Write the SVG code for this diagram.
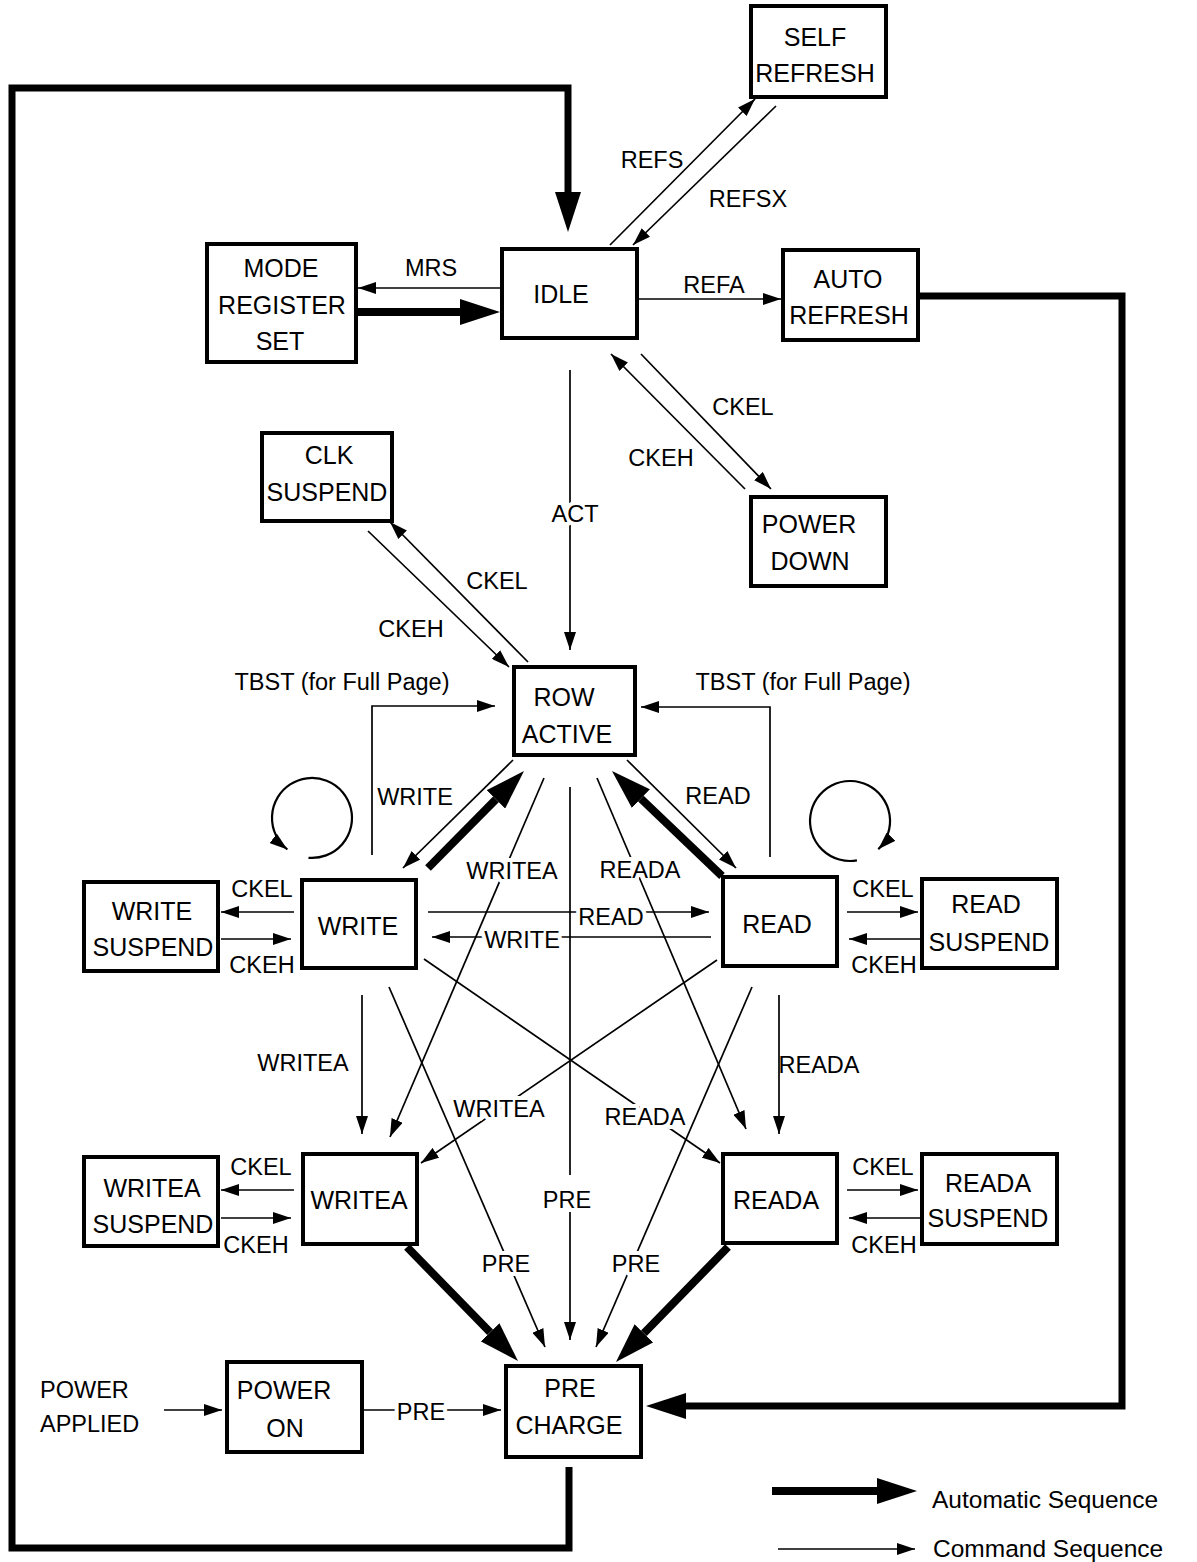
<svg xmlns="http://www.w3.org/2000/svg" width="1197" height="1562" viewBox="0 0 1197 1562">
<style>
text{font-family:"Liberation Sans",Arial,sans-serif;fill:#000}
.n{font-size:25px;text-anchor:middle}
.l{font-size:23.5px;text-anchor:middle}
.lh{font-size:23.5px;text-anchor:middle;stroke:#fff;stroke-width:8px;paint-order:stroke;stroke-linejoin:round}
.lg{font-size:24.5px}
rect{fill:#fff;stroke:#000;stroke-width:4}
.t{fill:none;stroke:#000;stroke-width:1.7;marker-end:url(#a)}
.tn{fill:none;stroke:#000;stroke-width:1.7}
.k{fill:none;stroke:#000;stroke-width:8;marker-end:url(#A)}
.ko{fill:none;stroke:#000;stroke-width:7;stroke-linejoin:miter;marker-end:url(#A)}
.lp{fill:none;stroke:#000;stroke-width:2.2;marker-end:url(#a)}
</style>
<defs>
<marker id="a" viewBox="0 0 18 12" refX="18" refY="6" markerWidth="18" markerHeight="12" markerUnits="userSpaceOnUse" orient="auto"><path d="M0,0 L18,6 L0,12 z" fill="#000"/></marker>
<marker id="A" viewBox="0 0 40 26" refX="0" refY="13" markerWidth="40" markerHeight="26" markerUnits="userSpaceOnUse" orient="auto"><path d="M0,0 L40,13 L0,26 z" fill="#000"/></marker>
</defs>

<g id="connectors">
<path class="ko" d="M569,1467 V1548 H12 V88 H568 V192"/>
<path class="ko" d="M919,296 H1122 V1406 H686"/>
<path class="k" d="M357,312 H460"/>
<path class="k" d="M428,868 L495.9,799.4"/>
<path class="k" d="M722,876 L640.9,798.6"/>
<path class="k" d="M407,1247 L490.1,1332.3"/>
<path class="k" d="M728,1247 L643.9,1333.3"/>

<path class="t" d="M502,288 H358"/>
<path class="t" d="M638,299 H781"/>
<path class="t" d="M610,245 L755,99"/>
<path class="t" d="M776,106 L633,245"/>
<path class="t" d="M641,354 L771,489"/>
<path class="t" d="M745,489 L611,354"/>
<path class="t" d="M570,370 V650"/>
<path class="t" d="M528,662 L390,522"/>
<path class="t" d="M368,531 L509,667"/>
<path class="t" d="M372,855 V706 H495"/>
<path class="t" d="M770,857 V707 H641"/>
<path class="t" d="M513,760 L403,868"/>
<path class="t" d="M627,760 L736,868"/>
<path class="t" d="M544,778 L390,1137"/>
<path class="t" d="M597,778 L746,1129"/>
<path class="tn" d="M570,787 V1175"/>
<path class="t" d="M570,1212 V1340"/>
<path class="t" d="M428,912 H709"/>
<path class="t" d="M711,937 H432"/>
<path class="t" d="M294,912 H221"/>
<path class="t" d="M221,939 H291"/>
<path class="t" d="M847,912 H918"/>
<path class="t" d="M922,939 H849"/>
<path class="t" d="M362,995 V1134"/>
<path class="t" d="M779,995 V1134"/>
<path class="t" d="M424,959 L720,1163"/>
<path class="t" d="M717,960 L421,1163"/>
<path class="t" d="M389,987 L545,1347"/>
<path class="t" d="M752,987 L596,1347"/>
<path class="t" d="M294,1190 H221"/>
<path class="t" d="M221,1218 H291"/>
<path class="t" d="M847,1190 H918"/>
<path class="t" d="M922,1218 H849"/>
<path class="t" d="M164,1410 H222"/>
<path class="t" d="M362,1410 H501"/>
<path class="lp" d="M308.5,857.8 A40,40 0 1 0 287.4,849.5"/>
<path class="lp" d="M856.9,860.4 A40,40 0 1 1 878.3,849.3"/>
</g>

<g id="labels">
<text class="l" x="652" y="168">REFS</text>
<text class="l" x="748" y="207">REFSX</text>
<text class="l" x="431" y="276">MRS</text>
<text class="l" x="714" y="293">REFA</text>
<text class="l" x="743" y="415">CKEL</text>
<text class="l" x="661" y="466">CKEH</text>
<text class="lh" x="575" y="522">ACT</text>
<text class="l" x="497" y="589">CKEL</text>
<text class="l" x="411" y="637">CKEH</text>
<text class="l" x="342" y="690">TBST (for Full Page)</text>
<text class="l" x="803" y="690">TBST (for Full Page)</text>
<text class="l" x="415" y="805">WRITE</text>
<text class="l" x="718" y="804">READ</text>
<text class="lh" x="512" y="879">WRITEA</text>
<text class="lh" x="640" y="878">READA</text>
<text class="lh" x="611" y="925">READ</text>
<text class="lh" x="522" y="948">WRITE</text>
<text class="l" x="262" y="897">CKEL</text>
<text class="l" x="262" y="973">CKEH</text>
<text class="l" x="883" y="897">CKEL</text>
<text class="l" x="884" y="973">CKEH</text>
<text class="l" x="303" y="1071">WRITEA</text>
<text class="l" x="819" y="1073">READA</text>
<text class="lh" x="499" y="1117">WRITEA</text>
<text class="lh" x="645" y="1125">READA</text>
<text class="l" x="261" y="1175">CKEL</text>
<text class="l" x="256" y="1253">CKEH</text>
<text class="l" x="883" y="1175">CKEL</text>
<text class="l" x="884" y="1253">CKEH</text>
<text class="l" x="567" y="1208">PRE</text>
<text class="lh" x="506" y="1272">PRE</text>
<text class="lh" x="636" y="1272">PRE</text>
<text class="lh" x="421" y="1420">PRE</text>
<text class="l" x="40" y="1398" style="text-anchor:start">POWER</text>
<text class="l" x="40" y="1432" style="text-anchor:start">APPLIED</text>
</g>

<g id="self-refresh"><rect x="751" y="6" width="135" height="91"/><text class="n" x="815" y="46">SELF</text><text class="n" x="815" y="82">REFRESH</text></g>
<g id="idle"><rect x="502" y="249" width="135" height="89"/><text class="n" x="561" y="303">IDLE</text></g>
<g id="mode-register-set"><rect x="207" y="244" width="149" height="118"/><text class="n" x="281" y="277">MODE</text><text class="n" x="282" y="314">REGISTER</text><text class="n" x="280" y="350">SET</text></g>
<g id="auto-refresh"><rect x="783" y="250" width="135" height="90"/><text class="n" x="848" y="288">AUTO</text><text class="n" x="849" y="324">REFRESH</text></g>
<g id="clk-suspend"><rect x="262" y="433" width="130" height="88"/><text class="n" x="329" y="464">CLK</text><text class="n" x="327" y="501">SUSPEND</text></g>
<g id="power-down"><rect x="751" y="497" width="135" height="89"/><text class="n" x="809" y="533">POWER</text><text class="n" x="810" y="570">DOWN</text></g>
<g id="row-active"><rect x="514" y="667" width="121" height="88"/><text class="n" x="564" y="706">ROW</text><text class="n" x="567" y="743">ACTIVE</text></g>
<g id="write"><rect x="302" y="880" width="114" height="88"/><text class="n" x="358" y="935">WRITE</text></g>
<g id="read"><rect x="723" y="877" width="114" height="89"/><text class="n" x="777" y="933">READ</text></g>
<g id="write-suspend"><rect x="84" y="882" width="134" height="89"/><text class="n" x="152" y="920">WRITE</text><text class="n" x="153" y="956">SUSPEND</text></g>
<g id="read-suspend"><rect x="922" y="879" width="135" height="89"/><text class="n" x="986" y="913">READ</text><text class="n" x="989" y="951">SUSPEND</text></g>
<g id="writea"><rect x="303" y="1154" width="114" height="90"/><text class="n" x="359" y="1209">WRITEA</text></g>
<g id="reada"><rect x="723" y="1154" width="114" height="89"/><text class="n" x="776" y="1209">READA</text></g>
<g id="writea-suspend"><rect x="84" y="1157" width="134" height="89"/><text class="n" x="152" y="1197">WRITEA</text><text class="n" x="153" y="1233">SUSPEND</text></g>
<g id="reada-suspend"><rect x="922" y="1154" width="135" height="90"/><text class="n" x="988" y="1192">READA</text><text class="n" x="988" y="1227">SUSPEND</text></g>
<g id="power-on"><rect x="227" y="1362" width="135" height="90"/><text class="n" x="284" y="1399">POWER</text><text class="n" x="285" y="1437">ON</text></g>
<g id="pre-charge"><rect x="506" y="1366" width="135" height="91"/><text class="n" x="570" y="1397">PRE</text><text class="n" x="569" y="1434">CHARGE</text></g>

<g id="legend">
<path class="k" d="M772,1491 H877"/>
<path class="t" d="M778,1549 H915"/>
<text class="lg" x="932" y="1508">Automatic Sequence</text>
<text class="lg" x="933" y="1557">Command Sequence</text>
</g>
</svg>
